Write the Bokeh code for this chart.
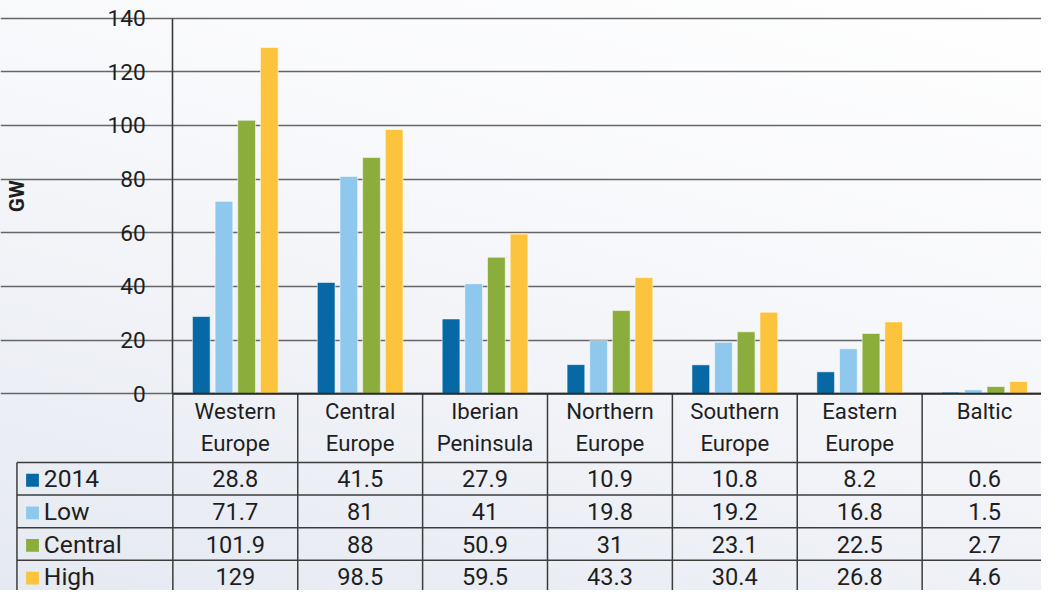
from bokeh.plotting import figure
from bokeh.models import Range1d, LinearAxis, FixedTicker
from bokeh.core.properties import value
from bokeh.embed import file_html
from bokeh.resources import INLINE

# ---------------- data ----------------
categories = ["Western Europe", "Central Europe", "Iberian Peninsula",
              "Northern Europe", "Southern Europe", "Eastern Europe", "Baltic"]
category_labels = ["Western\nEurope", "Central\nEurope", "Iberian\nPeninsula",
                   "Northern\nEurope", "Southern\nEurope", "Eastern\nEurope", "Baltic"]
series = ["2014", "Low", "Central", "High"]
v_2014 = [28.8, 41.5, 27.9, 10.9, 10.8, 8.2, 0.6]
v_low = [71.7, 81, 41, 19.8, 19.2, 16.8, 1.5]
v_central = [101.9, 88, 50.9, 31, 23.1, 22.5, 2.7]
v_high = [129, 98.5, 59.5, 43.3, 30.4, 26.8, 4.6]
y_ticks = [0, 20, 40, 60, 80, 100, 120, 140]
y_label = "GW"
colors = ["#0669a6", "#8ec8ec", "#8aad3b", "#fcc43d"]

all_values = [v_2014, v_low, v_central, v_high]

# ---------------- geometry ----------------
W, H = 1041, 590
REF_W, REF_H = 1057.0, 606.0
AXIS_PX = 175.0          # x of the value axis in the reference layout
CAT_PX = 126.8           # width of one category column
ZERO_PX = 404.0          # y of value 0
UNIT_PX = 386.0 / 140.0  # pixels per GW
FS = W / REF_W           # font scale

def sx(px):
    return (px - AXIS_PX) / CAT_PX

def sy(py):
    return (ZERO_PX - py) / UNIT_PX

def fpx(size):
    return f"{size * FS:.1f}px"

FONT = value("Roboto")
TXT = "#1e1e1e"

p = figure(width=W, height=H, output_backend="svg", toolbar_location=None,
           x_axis_location=None, y_axis_location=None,
           x_range=Range1d(sx(0), sx(REF_W)),
           y_range=Range1d(sy(REF_H), sy(0)),
           min_border_left=0, min_border_right=0, min_border_top=0, min_border_bottom=0)
p.background_fill_alpha = 0
p.border_fill_alpha = 0
p.outline_line_color = None
p.styles = {"background": "linear-gradient(195deg, #ffffff 0%, #f7f8fb 40%, #e5e9f1 100%)"}

# grid
p.xgrid.visible = False
p.ygrid.ticker = FixedTicker(ticks=y_ticks)
p.ygrid.bounds = (y_ticks[0], y_ticks[-1])
p.ygrid.grid_line_color = "#666666"
p.ygrid.grid_line_width = 1.7

# value axis at category boundary 0
yaxis = LinearAxis(fixed_location=0, ticker=FixedTicker(ticks=y_ticks),
                   bounds=(y_ticks[0], y_ticks[-1]),
                   major_tick_out=0, major_tick_in=0, minor_tick_out=0, minor_tick_in=0,
                   axis_line_color="#3a3a3a", axis_line_width=1.6,
                   major_label_text_font="Roboto", major_label_text_font_size=fpx(23),
                   major_label_text_color=TXT, major_label_standoff=27)
p.add_layout(yaxis, "left")

# bars
n = len(categories)
offsets = [-1.5, -0.5, 0.5, 1.5]
step = 0.1815
bar_w = 0.142
for k, (vals, col) in enumerate(zip(all_values, colors)):
    xs = [i + 0.5 + offsets[k] * step for i in range(n)]
    p.vbar(x=xs, top=vals, bottom=0, width=bar_w, fill_color=col,
           line_color="white", line_alpha=0.55, line_width=1)

# table structure lines
table_left = sx(16.7)
row_top = sy(474.5)
row_h = 33.5 / UNIT_PX
y_bottom = sy(REF_H) - 5
x_right = n + 0.2

seg_x0, seg_y0, seg_x1, seg_y1 = [], [], [], []
for i in range(n + 1):
    seg_x0.append(i); seg_y0.append(0); seg_x1.append(i); seg_y1.append(y_bottom)
seg_x0.append(table_left); seg_y0.append(row_top); seg_x1.append(table_left); seg_y1.append(y_bottom)
for r in range(len(series) + 1):
    yy = row_top - r * row_h
    seg_x0.append(table_left); seg_y0.append(yy); seg_x1.append(x_right); seg_y1.append(yy)
p.segment(x0=seg_x0, y0=seg_y0, x1=seg_x1, y1=seg_y1, line_color="#3c3c3c", line_width=1.5)
# baseline
p.segment(x0=[0], y0=[0], x1=[x_right], y1=[0], line_color="#2a2a2a", line_width=2)

# category labels
p.text(x=[i + 0.5 for i in range(n)], y=[sy(408)] * n, text=category_labels,
       text_font=FONT, text_font_size=fpx(22.5), text_color=TXT,
       text_align="center", text_baseline="top", text_line_height=1.25)

# table values
tx, ty, tt = [], [], []
for r, vals in enumerate(all_values):
    yc = row_top - (r + 0.5) * row_h
    for i, v in enumerate(vals):
        tx.append(i + 0.5); ty.append(yc); tt.append(f"{v:g}")
p.text(x=tx, y=ty, text=tt, text_font=FONT, text_font_size=fpx(24),
       text_color=TXT, text_align="center", text_baseline="middle")

# legend column
row_centers = [row_top - (r + 0.5) * row_h for r in range(len(series))]
p.scatter(x=[sx(32.5)] * len(series), y=[y - 1.5 / UNIT_PX for y in row_centers],
          marker="square", size=13 * FS, fill_color=colors, line_color=None)
p.text(x=[sx(44)] * len(series), y=row_centers, text=series, text_font=FONT,
       text_font_size=fpx(25), text_color=TXT, text_align="left",
       text_baseline="middle")

# axis title
p.text(x=[sx(17)], y=[sy(201)], text=[y_label], angle=1.5707963, text_font=FONT,
       text_font_size=fpx(21), text_font_style="bold", text_color=TXT,
       text_align="center", text_baseline="middle")

open("out.html", "w").write(file_html(p, INLINE))
